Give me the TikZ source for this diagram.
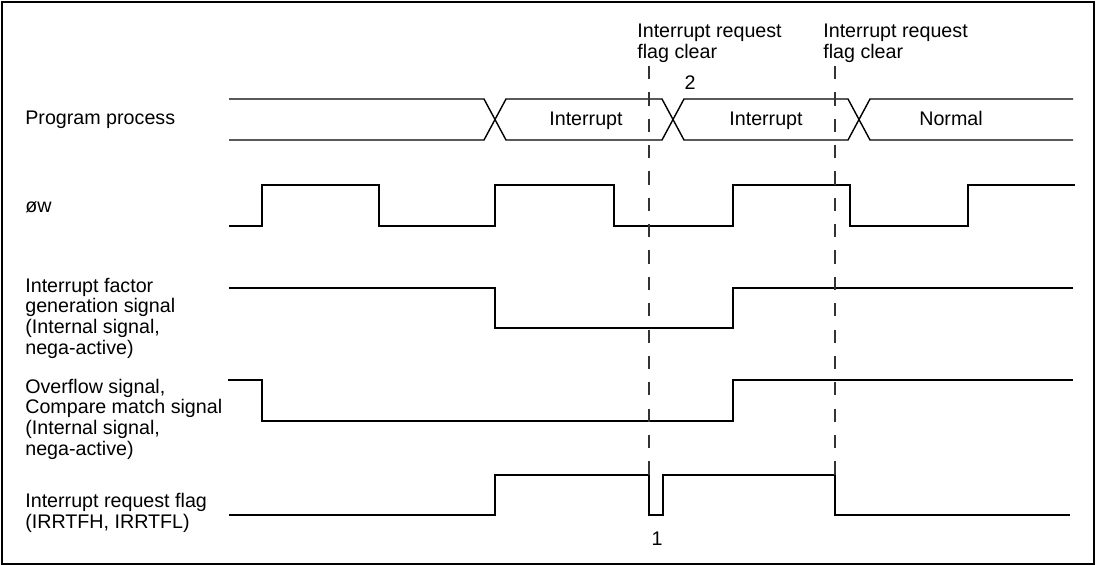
\documentclass[tikz,border=0pt]{standalone}
\usepackage{fontspec}
\setmainfont{Liberation Sans}
\usetikzlibrary{positioning}

\begin{document}
\begin{tikzpicture}[
    x=0.02cm, y=-0.02cm,
    font=\fontsize{11.2}{11.7}\selectfont,
    wave/.style={line width=0.8pt, line join=miter},
    marker/.style={dash pattern=on 7.5pt off 7.5pt, line width=0.7pt, black!80},
    sig/.style={anchor=base west, align=left, inner sep=0pt},
    txt/.style={anchor=base, inner sep=0pt}
]
\useasboundingbox (0,0) rectangle (1098,565);
\draw[line width=0.9pt] (2,2) rectangle (1094,564);

% Signal names (left), anchored at the last line
\node[sig] (lprog) at (25,124) {Program process};
\node[sig] (lphi) at (25,212) {øw};
\node[sig] (lfact) at (25,354) {Interrupt factor\\generation signal\\(Internal signal,\\nega-active)};
\node[sig] (lovf) at (25,455) {Overflow signal,\\Compare match signal\\(Internal signal,\\nega-active)};
\node[sig] (lflag) at (25,528) {Interrupt request flag\\(IRRTFH, IRRTFL)};

% Program process bus
\draw[wave] (229,99) -- (484,99) -- (506,140) -- (662,140) -- (684,99) -- (848,99) -- (870,140) -- (1073,140);
\draw[wave] (229,140) -- (484,140) -- (506,99) -- (662,99) -- (684,140) -- (848,140) -- (870,99) -- (1073,99);
\node[txt] (bus1) at (586,125) {Interrupt};
\node[txt] (bus2) at (766,125) {Interrupt};
\node[txt] (bus3) at (951,125) {Normal};

% Waveforms
\draw[wave] (229,226) -| (262,185) -| (379,226) -| (495,185) -| (614,226) -| (733,185) -| (850,226) -| (968,185) -- (1075,185);
\draw[wave] (229,288) -| (495,328) -| (733,288) -- (1073,288);
\draw[wave] (228,380) -| (262,421) -| (733,380) -- (1073,380);
\draw[wave] (229,515) -| (495,475) -| (649,515) -| (663,475) -| (835,515) -- (1070,515);

% Flag clear markers
\coordinate (c1) at (649,66);
\coordinate (c2) at (835,66);
\foreach \c in {c1,c2}
  \draw[marker] (\c) -- (\c |- 0,475);

\node[sig] (clr1) at (637,58) {Interrupt request\\flag clear};
\node[sig] (clr2) at (823,58) {Interrupt request\\flag clear};
\node[txt] (n2) at (690,89) {2};
\node[txt] (n1) at (657,545) {1};
\end{tikzpicture}
\end{document}
